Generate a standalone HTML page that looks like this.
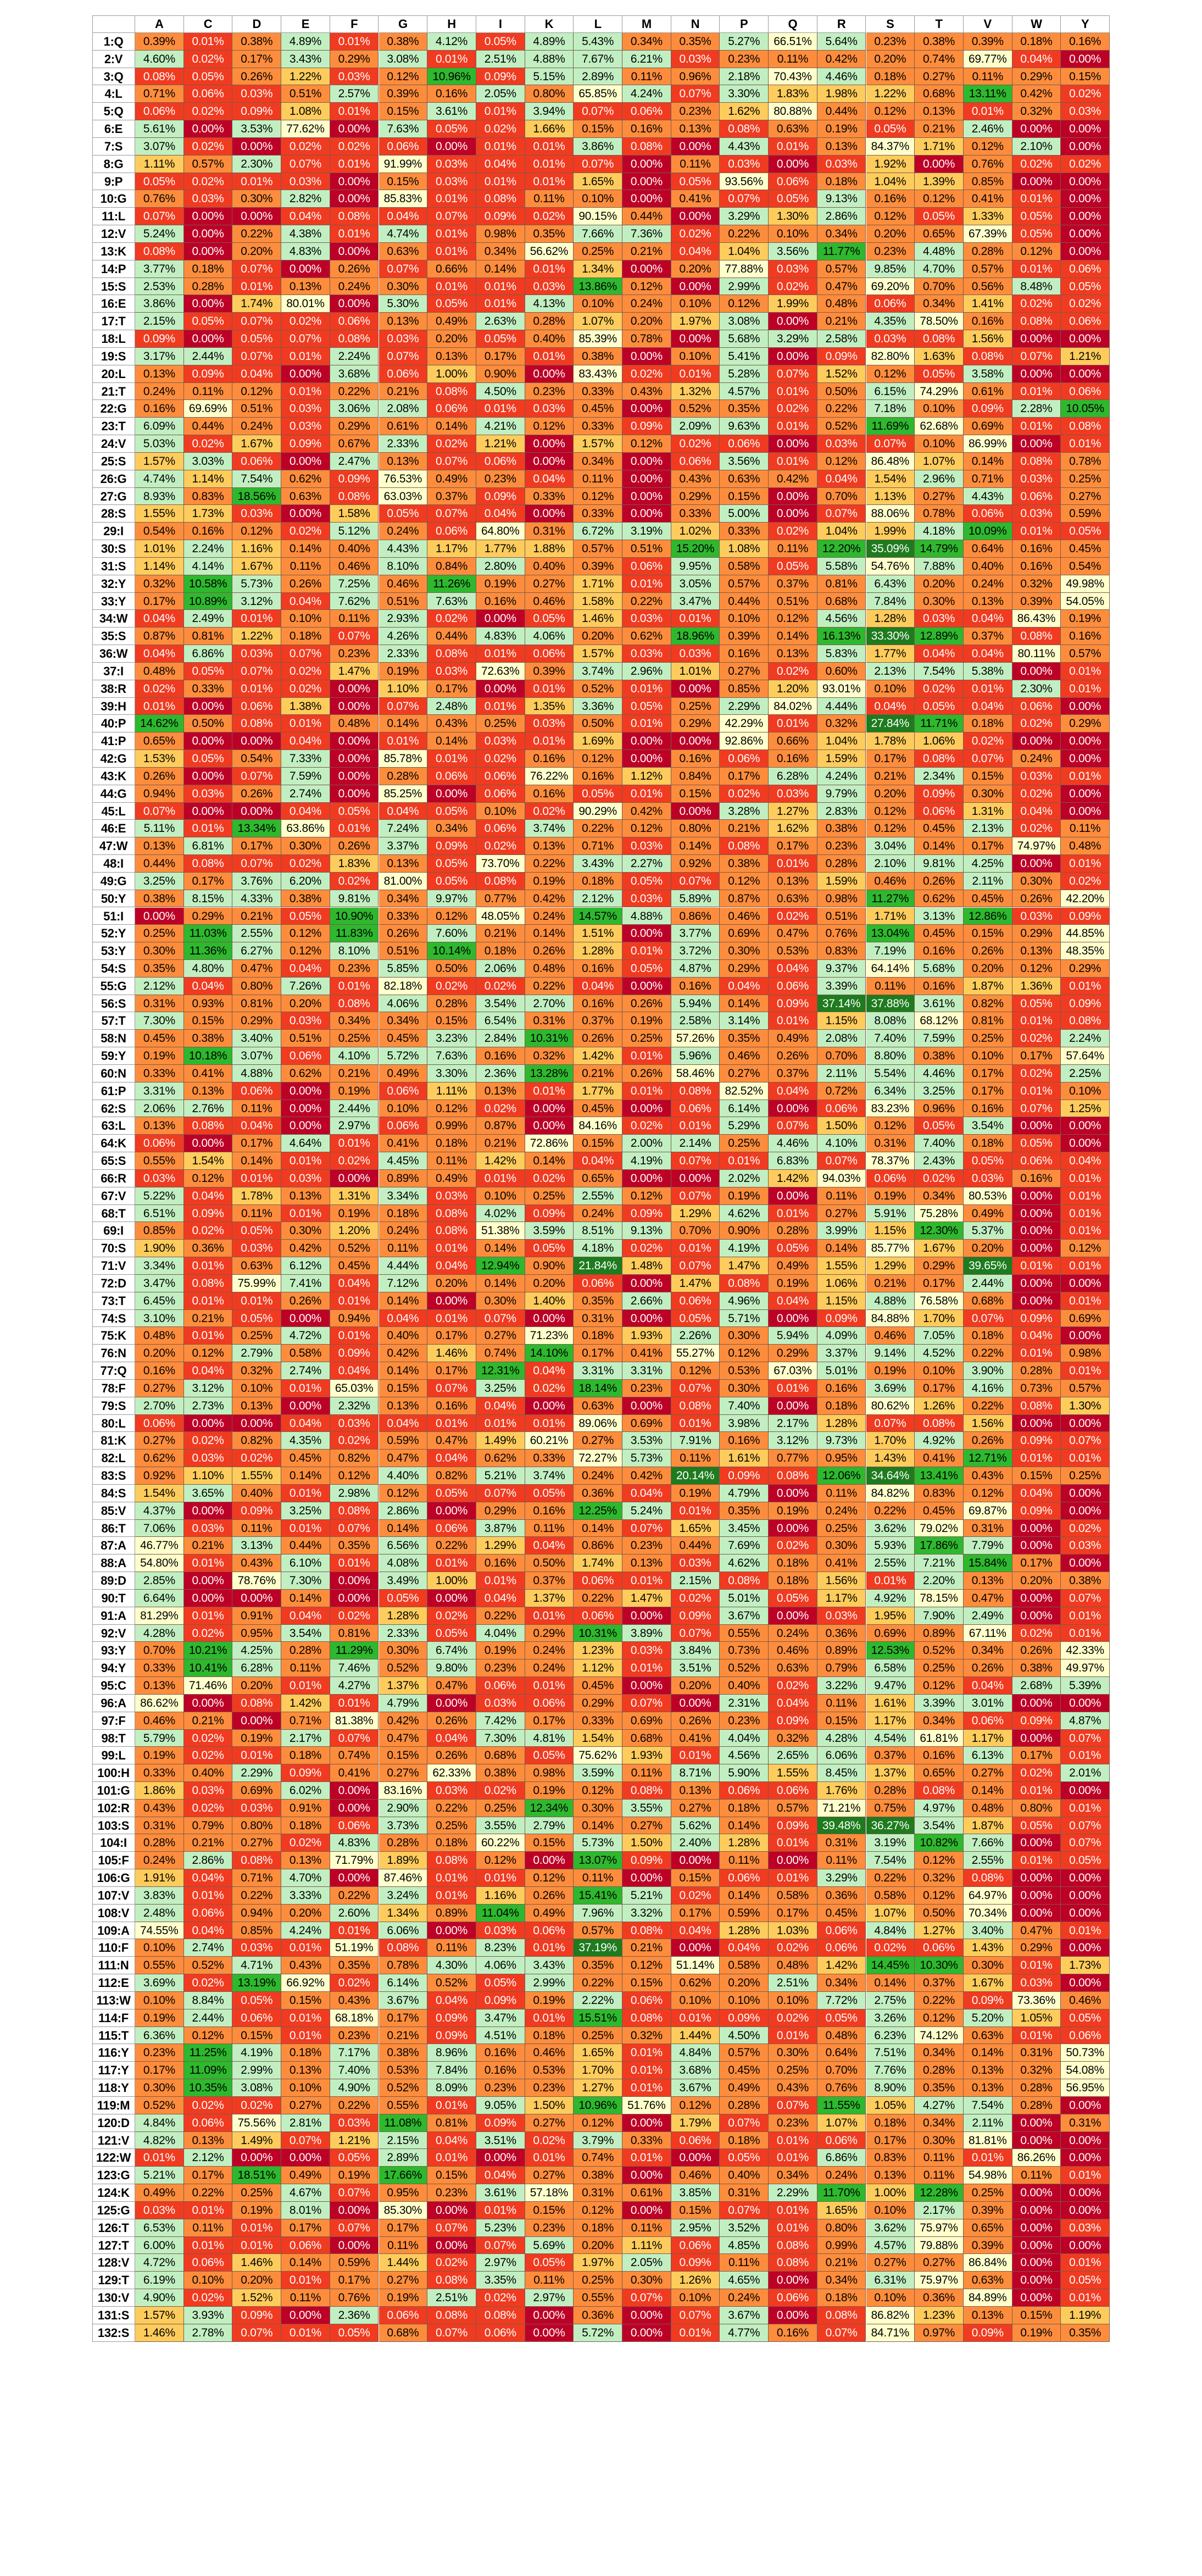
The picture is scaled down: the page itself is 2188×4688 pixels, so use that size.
<!DOCTYPE html>
<html><head><meta charset="utf-8">
<style>
html,body{margin:0;padding:0;background:#fff;}
body{width:2188px;height:4688px;position:relative;overflow:hidden;font-family:"Liberation Sans",sans-serif;}
.c{position:absolute;box-sizing:border-box;border-right:1.5px solid #7a5a50;border-bottom:1.5px solid #7a5a50;text-align:center;font-size:21px;white-space:nowrap;overflow:hidden;letter-spacing:-0.3px;}
.h{background:#fff;color:#000;font-weight:bold;font-size:22px;border-color:#999;}
</style></head><body>
<div id="t"></div>
<script>
var cols="A C D E F G H I K L M N P Q R S T V W Y".split(" ");
var R=[
["1:Q","0.39 0.01 0.38 4.89 0.01 0.38 4.12 0.05 4.89 5.43 0.34 0.35 5.27 66.51 5.64 0.23 0.38 0.39 0.18 0.16"],
["2:V","4.60 0.02 0.17 3.43 0.29 3.08 0.01 2.51 4.88 7.67 6.21 0.03 0.23 0.11 0.42 0.20 0.74 69.77 0.04 0.00"],
["3:Q","0.08 0.05 0.26 1.22 0.03 0.12 10.96 0.09 5.15 2.89 0.11 0.96 2.18 70.43 4.46 0.18 0.27 0.11 0.29 0.15"],
["4:L","0.71 0.06 0.03 0.51 2.57 0.39 0.16 2.05 0.80 65.85 4.24 0.07 3.30 1.83 1.98 1.22 0.68 13.11 0.42 0.02"],
["5:Q","0.06 0.02 0.09 1.08 0.01 0.15 3.61 0.01 3.94 0.07 0.06 0.23 1.62 80.88 0.44 0.12 0.13 0.01 0.32 0.03"],
["6:E","5.61 0.00 3.53 77.62 0.00 7.63 0.05 0.02 1.66 0.15 0.16 0.13 0.08 0.63 0.19 0.05 0.21 2.46 0.00 0.00"],
["7:S","3.07 0.02 0.00 0.02 0.02 0.06 0.00 0.01 0.01 3.86 0.08 0.00 4.43 0.01 0.13 84.37 1.71 0.12 2.10 0.00"],
["8:G","1.11 0.57 2.30 0.07 0.01 91.99 0.03 0.04 0.01 0.07 0.00 0.11 0.03 0.00 0.03 1.92 0.00 0.76 0.02 0.02"],
["9:P","0.05 0.02 0.01 0.03 0.00 0.15 0.03 0.01 0.01 1.65 0.00 0.05 93.56 0.06 0.18 1.04 1.39 0.85 0.00 0.00"],
["10:G","0.76 0.03 0.30 2.82 0.00 85.83 0.01 0.08 0.11 0.10 0.00 0.41 0.07 0.05 9.13 0.16 0.12 0.41 0.01 0.00"],
["11:L","0.07 0.00 0.00 0.04 0.08 0.04 0.07 0.09 0.02 90.15 0.44 0.00 3.29 1.30 2.86 0.12 0.05 1.33 0.05 0.00"],
["12:V","5.24 0.00 0.22 4.38 0.01 4.74 0.01 0.98 0.35 7.66 7.36 0.02 0.22 0.10 0.34 0.20 0.65 67.39 0.05 0.00"],
["13:K","0.08 0.00 0.20 4.83 0.00 0.63 0.01 0.34 56.62 0.25 0.21 0.04 1.04 3.56 11.77 0.23 4.48 0.28 0.12 0.00"],
["14:P","3.77 0.18 0.07 0.00 0.26 0.07 0.66 0.14 0.01 1.34 0.00 0.20 77.88 0.03 0.57 9.85 4.70 0.57 0.01 0.06"],
["15:S","2.53 0.28 0.01 0.13 0.24 0.30 0.01 0.01 0.03 13.86 0.12 0.00 2.99 0.02 0.47 69.20 0.70 0.56 8.48 0.05"],
["16:E","3.86 0.00 1.74 80.01 0.00 5.30 0.05 0.01 4.13 0.10 0.24 0.10 0.12 1.99 0.48 0.06 0.34 1.41 0.02 0.02"],
["17:T","2.15 0.05 0.07 0.02 0.06 0.13 0.49 2.63 0.28 1.07 0.20 1.97 3.08 0.00 0.21 4.35 78.50 0.16 0.08 0.06"],
["18:L","0.09 0.00 0.05 0.07 0.08 0.03 0.20 0.05 0.40 85.39 0.78 0.00 5.68 3.29 2.58 0.03 0.08 1.56 0.00 0.00"],
["19:S","3.17 2.44 0.07 0.01 2.24 0.07 0.13 0.17 0.01 0.38 0.00 0.10 5.41 0.00 0.09 82.80 1.63 0.08 0.07 1.21"],
["20:L","0.13 0.09 0.04 0.00 3.68 0.06 1.00 0.90 0.00 83.43 0.02 0.01 5.28 0.07 1.52 0.12 0.05 3.58 0.00 0.00"],
["21:T","0.24 0.11 0.12 0.01 0.22 0.21 0.08 4.50 0.23 0.33 0.43 1.32 4.57 0.01 0.50 6.15 74.29 0.61 0.01 0.06"],
["22:G","0.16 69.69 0.51 0.03 3.06 2.08 0.06 0.01 0.03 0.45 0.00 0.52 0.35 0.02 0.22 7.18 0.10 0.09 2.28 10.05"],
["23:T","6.09 0.44 0.24 0.03 0.29 0.61 0.14 4.21 0.12 0.33 0.09 2.09 9.63 0.01 0.52 11.69 62.68 0.69 0.01 0.08"],
["24:V","5.03 0.02 1.67 0.09 0.67 2.33 0.02 1.21 0.00 1.57 0.12 0.02 0.06 0.00 0.03 0.07 0.10 86.99 0.00 0.01"],
["25:S","1.57 3.03 0.06 0.00 2.47 0.13 0.07 0.06 0.00 0.34 0.00 0.06 3.56 0.01 0.12 86.48 1.07 0.14 0.08 0.78"],
["26:G","4.74 1.14 7.54 0.62 0.09 76.53 0.49 0.23 0.04 0.11 0.00 0.43 0.63 0.42 0.04 1.54 2.96 0.71 0.03 0.25"],
["27:G","8.93 0.83 18.56 0.63 0.08 63.03 0.37 0.09 0.33 0.12 0.00 0.29 0.15 0.00 0.70 1.13 0.27 4.43 0.06 0.27"],
["28:S","1.55 1.73 0.03 0.00 1.58 0.05 0.07 0.04 0.00 0.33 0.00 0.33 5.00 0.00 0.07 88.06 0.78 0.06 0.03 0.59"],
["29:I","0.54 0.16 0.12 0.02 5.12 0.24 0.06 64.80 0.31 6.72 3.19 1.02 0.33 0.02 1.04 1.99 4.18 10.09 0.01 0.05"],
["30:S","1.01 2.24 1.16 0.14 0.40 4.43 1.17 1.77 1.88 0.57 0.51 15.20 1.08 0.11 12.20 35.09 14.79 0.64 0.16 0.45"],
["31:S","1.14 4.14 1.67 0.11 0.46 8.10 0.84 2.80 0.40 0.39 0.06 9.95 0.58 0.05 5.58 54.76 7.88 0.40 0.16 0.54"],
["32:Y","0.32 10.58 5.73 0.26 7.25 0.46 11.26 0.19 0.27 1.71 0.01 3.05 0.57 0.37 0.81 6.43 0.20 0.24 0.32 49.98"],
["33:Y","0.17 10.89 3.12 0.04 7.62 0.51 7.63 0.16 0.46 1.58 0.22 3.47 0.44 0.51 0.68 7.84 0.30 0.13 0.39 54.05"],
["34:W","0.04 2.49 0.01 0.10 0.11 2.93 0.02 0.00 0.05 1.46 0.03 0.01 0.10 0.12 4.56 1.28 0.03 0.04 86.43 0.19"],
["35:S","0.87 0.81 1.22 0.18 0.07 4.26 0.44 4.83 4.06 0.20 0.62 18.96 0.39 0.14 16.13 33.30 12.89 0.37 0.08 0.16"],
["36:W","0.04 6.86 0.03 0.07 0.23 2.33 0.08 0.01 0.06 1.57 0.03 0.03 0.16 0.13 5.83 1.77 0.04 0.04 80.11 0.57"],
["37:I","0.48 0.05 0.07 0.02 1.47 0.19 0.03 72.63 0.39 3.74 2.96 1.01 0.27 0.02 0.60 2.13 7.54 5.38 0.00 0.01"],
["38:R","0.02 0.33 0.01 0.02 0.00 1.10 0.17 0.00 0.01 0.52 0.01 0.00 0.85 1.20 93.01 0.10 0.02 0.01 2.30 0.01"],
["39:H","0.01 0.00 0.06 1.38 0.00 0.07 2.48 0.01 1.35 3.36 0.05 0.25 2.29 84.02 4.44 0.04 0.05 0.04 0.06 0.00"],
["40:P","14.62 0.50 0.08 0.01 0.48 0.14 0.43 0.25 0.03 0.50 0.01 0.29 42.29 0.01 0.32 27.84 11.71 0.18 0.02 0.29"],
["41:P","0.65 0.00 0.00 0.04 0.00 0.01 0.14 0.03 0.01 1.69 0.00 0.00 92.86 0.66 1.04 1.78 1.06 0.02 0.00 0.00"],
["42:G","1.53 0.05 0.54 7.33 0.00 85.78 0.01 0.02 0.16 0.12 0.00 0.16 0.06 0.16 1.59 0.17 0.08 0.07 0.24 0.00"],
["43:K","0.26 0.00 0.07 7.59 0.00 0.28 0.06 0.06 76.22 0.16 1.12 0.84 0.17 6.28 4.24 0.21 2.34 0.15 0.03 0.01"],
["44:G","0.94 0.03 0.26 2.74 0.00 85.25 0.00 0.06 0.16 0.05 0.01 0.15 0.02 0.03 9.79 0.20 0.09 0.30 0.02 0.00"],
["45:L","0.07 0.00 0.00 0.04 0.05 0.04 0.05 0.10 0.02 90.29 0.42 0.00 3.28 1.27 2.83 0.12 0.06 1.31 0.04 0.00"],
["46:E","5.11 0.01 13.34 63.86 0.01 7.24 0.34 0.06 3.74 0.22 0.12 0.80 0.21 1.62 0.38 0.12 0.45 2.13 0.02 0.11"],
["47:W","0.13 6.81 0.17 0.30 0.26 3.37 0.09 0.02 0.13 0.71 0.03 0.14 0.08 0.17 0.23 3.04 0.14 0.17 74.97 0.48"],
["48:I","0.44 0.08 0.07 0.02 1.83 0.13 0.05 73.70 0.22 3.43 2.27 0.92 0.38 0.01 0.28 2.10 9.81 4.25 0.00 0.01"],
["49:G","3.25 0.17 3.76 6.20 0.02 81.00 0.05 0.08 0.19 0.18 0.05 0.07 0.12 0.13 1.59 0.46 0.26 2.11 0.30 0.02"],
["50:Y","0.38 8.15 4.33 0.38 9.81 0.34 9.97 0.77 0.42 2.12 0.03 5.89 0.87 0.63 0.98 11.27 0.62 0.45 0.26 42.20"],
["51:I","0.00 0.29 0.21 0.05 10.90 0.33 0.12 48.05 0.24 14.57 4.88 0.86 0.46 0.02 0.51 1.71 3.13 12.86 0.03 0.09"],
["52:Y","0.25 11.03 2.55 0.12 11.83 0.26 7.60 0.21 0.14 1.51 0.00 3.77 0.69 0.47 0.76 13.04 0.45 0.15 0.29 44.85"],
["53:Y","0.30 11.36 6.27 0.12 8.10 0.51 10.14 0.18 0.26 1.28 0.01 3.72 0.30 0.53 0.83 7.19 0.16 0.26 0.13 48.35"],
["54:S","0.35 4.80 0.47 0.04 0.23 5.85 0.50 2.06 0.48 0.16 0.05 4.87 0.29 0.04 9.37 64.14 5.68 0.20 0.12 0.29"],
["55:G","2.12 0.04 0.80 7.26 0.01 82.18 0.02 0.02 0.22 0.04 0.00 0.16 0.04 0.06 3.39 0.11 0.16 1.87 1.36 0.01"],
["56:S","0.31 0.93 0.81 0.20 0.08 4.06 0.28 3.54 2.70 0.16 0.26 5.94 0.14 0.09 37.14 37.88 3.61 0.82 0.05 0.09"],
["57:T","7.30 0.15 0.29 0.03 0.34 0.34 0.15 6.54 0.31 0.37 0.19 2.58 3.14 0.01 1.15 8.08 68.12 0.81 0.01 0.08"],
["58:N","0.45 0.38 3.40 0.51 0.25 0.45 3.23 2.84 10.31 0.26 0.25 57.26 0.35 0.49 2.08 7.40 7.59 0.25 0.02 2.24"],
["59:Y","0.19 10.18 3.07 0.06 4.10 5.72 7.63 0.16 0.32 1.42 0.01 5.96 0.46 0.26 0.70 8.80 0.38 0.10 0.17 57.64"],
["60:N","0.33 0.41 4.88 0.62 0.21 0.49 3.30 2.36 13.28 0.21 0.26 58.46 0.27 0.37 2.11 5.54 4.46 0.17 0.02 2.25"],
["61:P","3.31 0.13 0.06 0.00 0.19 0.06 1.11 0.13 0.01 1.77 0.01 0.08 82.52 0.04 0.72 6.34 3.25 0.17 0.01 0.10"],
["62:S","2.06 2.76 0.11 0.00 2.44 0.10 0.12 0.02 0.00 0.45 0.00 0.06 6.14 0.00 0.06 83.23 0.96 0.16 0.07 1.25"],
["63:L","0.13 0.08 0.04 0.00 2.97 0.06 0.99 0.87 0.00 84.16 0.02 0.01 5.29 0.07 1.50 0.12 0.05 3.54 0.00 0.00"],
["64:K","0.06 0.00 0.17 4.64 0.01 0.41 0.18 0.21 72.86 0.15 2.00 2.14 0.25 4.46 4.10 0.31 7.40 0.18 0.05 0.00"],
["65:S","0.55 1.54 0.14 0.01 0.02 4.45 0.11 1.42 0.14 0.04 4.19 0.07 0.01 6.83 0.07 78.37 2.43 0.05 0.06 0.04"],
["66:R","0.03 0.12 0.01 0.03 0.00 0.89 0.49 0.01 0.02 0.65 0.00 0.00 2.02 1.42 94.03 0.06 0.02 0.03 0.16 0.01"],
["67:V","5.22 0.04 1.78 0.13 1.31 3.34 0.03 0.10 0.25 2.55 0.12 0.07 0.19 0.00 0.11 0.19 0.34 80.53 0.00 0.01"],
["68:T","6.51 0.09 0.11 0.01 0.19 0.18 0.08 4.02 0.09 0.24 0.09 1.29 4.62 0.01 0.27 5.91 75.28 0.49 0.00 0.01"],
["69:I","0.85 0.02 0.05 0.30 1.20 0.24 0.08 51.38 3.59 8.51 9.13 0.70 0.90 0.28 3.99 1.15 12.30 5.37 0.00 0.01"],
["70:S","1.90 0.36 0.03 0.42 0.52 0.11 0.01 0.14 0.05 4.18 0.02 0.01 4.19 0.05 0.14 85.77 1.67 0.20 0.00 0.12"],
["71:V","3.34 0.01 0.63 6.12 0.45 4.44 0.04 12.94 0.90 21.84 1.48 0.07 1.47 0.49 1.55 1.29 0.29 39.65 0.01 0.01"],
["72:D","3.47 0.08 75.99 7.41 0.04 7.12 0.20 0.14 0.20 0.06 0.00 1.47 0.08 0.19 1.06 0.21 0.17 2.44 0.00 0.00"],
["73:T","6.45 0.01 0.01 0.26 0.01 0.14 0.00 0.30 1.40 0.35 2.66 0.06 4.96 0.04 1.15 4.88 76.58 0.68 0.00 0.01"],
["74:S","3.10 0.21 0.05 0.00 0.94 0.04 0.01 0.07 0.00 0.31 0.00 0.05 5.71 0.00 0.09 84.88 1.70 0.07 0.09 0.69"],
["75:K","0.48 0.01 0.25 4.72 0.01 0.40 0.17 0.27 71.23 0.18 1.93 2.26 0.30 5.94 4.09 0.46 7.05 0.18 0.04 0.00"],
["76:N","0.20 0.12 2.79 0.58 0.09 0.42 1.46 0.74 14.10 0.17 0.41 55.27 0.12 0.29 3.37 9.14 4.52 0.22 0.01 0.98"],
["77:Q","0.16 0.04 0.32 2.74 0.04 0.14 0.17 12.31 0.04 3.31 3.31 0.12 0.53 67.03 5.01 0.19 0.10 3.90 0.28 0.01"],
["78:F","0.27 3.12 0.10 0.01 65.03 0.15 0.07 3.25 0.02 18.14 0.23 0.07 0.30 0.01 0.16 3.69 0.17 4.16 0.73 0.57"],
["79:S","2.70 2.73 0.13 0.00 2.32 0.13 0.16 0.04 0.00 0.63 0.00 0.08 7.40 0.00 0.18 80.62 1.26 0.22 0.08 1.30"],
["80:L","0.06 0.00 0.00 0.04 0.03 0.04 0.01 0.01 0.01 89.06 0.69 0.01 3.98 2.17 1.28 0.07 0.08 1.56 0.00 0.00"],
["81:K","0.27 0.02 0.82 4.35 0.02 0.59 0.47 1.49 60.21 0.27 3.53 7.91 0.16 3.12 9.73 1.70 4.92 0.26 0.09 0.07"],
["82:L","0.62 0.03 0.02 0.45 0.82 0.47 0.04 0.62 0.33 72.27 5.73 0.11 1.61 0.77 0.95 1.43 0.41 12.71 0.01 0.01"],
["83:S","0.92 1.10 1.55 0.14 0.12 4.40 0.82 5.21 3.74 0.24 0.42 20.14 0.09 0.08 12.06 34.64 13.41 0.43 0.15 0.25"],
["84:S","1.54 3.65 0.40 0.01 2.98 0.12 0.05 0.07 0.05 0.36 0.04 0.19 4.79 0.00 0.11 84.82 0.83 0.12 0.04 0.00"],
["85:V","4.37 0.00 0.09 3.25 0.08 2.86 0.00 0.29 0.16 12.25 5.24 0.01 0.35 0.19 0.24 0.22 0.45 69.87 0.09 0.00"],
["86:T","7.06 0.03 0.11 0.01 0.07 0.14 0.06 3.87 0.11 0.14 0.07 1.65 3.45 0.00 0.25 3.62 79.02 0.31 0.00 0.02"],
["87:A","46.77 0.21 3.13 0.44 0.35 6.56 0.22 1.29 0.04 0.86 0.23 0.44 7.69 0.02 0.30 5.93 17.86 7.79 0.00 0.03"],
["88:A","54.80 0.01 0.43 6.10 0.01 4.08 0.01 0.16 0.50 1.74 0.13 0.03 4.62 0.18 0.41 2.55 7.21 15.84 0.17 0.00"],
["89:D","2.85 0.00 78.76 7.30 0.00 3.49 1.00 0.01 0.37 0.06 0.01 2.15 0.08 0.18 1.56 0.01 2.20 0.13 0.20 0.38"],
["90:T","6.64 0.00 0.00 0.14 0.00 0.05 0.00 0.04 1.37 0.22 1.47 0.02 5.01 0.05 1.17 4.92 78.15 0.47 0.00 0.07"],
["91:A","81.29 0.01 0.91 0.04 0.02 1.28 0.02 0.22 0.01 0.06 0.00 0.09 3.67 0.00 0.03 1.95 7.90 2.49 0.00 0.01"],
["92:V","4.28 0.02 0.95 3.54 0.81 2.33 0.05 4.04 0.29 10.31 3.89 0.07 0.55 0.24 0.36 0.69 0.89 67.11 0.02 0.01"],
["93:Y","0.70 10.21 4.25 0.28 11.29 0.30 6.74 0.19 0.24 1.23 0.03 3.84 0.73 0.46 0.89 12.53 0.52 0.34 0.26 42.33"],
["94:Y","0.33 10.41 6.28 0.11 7.46 0.52 9.80 0.23 0.24 1.12 0.01 3.51 0.52 0.63 0.79 6.58 0.25 0.26 0.38 49.97"],
["95:C","0.13 71.46 0.20 0.01 4.27 1.37 0.47 0.06 0.01 0.45 0.00 0.20 0.40 0.02 3.22 9.47 0.12 0.04 2.68 5.39"],
["96:A","86.62 0.00 0.08 1.42 0.01 4.79 0.00 0.03 0.06 0.29 0.07 0.00 2.31 0.04 0.11 1.61 3.39 3.01 0.00 0.00"],
["97:F","0.46 0.21 0.00 0.71 81.38 0.42 0.26 7.42 0.17 0.33 0.69 0.26 0.23 0.09 0.15 1.17 0.34 0.06 0.09 4.87"],
["98:T","5.79 0.02 0.19 2.17 0.07 0.47 0.04 7.30 4.81 1.54 0.68 0.41 4.04 0.32 4.28 4.54 61.81 1.17 0.00 0.07"],
["99:L","0.19 0.02 0.01 0.18 0.74 0.15 0.26 0.68 0.05 75.62 1.93 0.01 4.56 2.65 6.06 0.37 0.16 6.13 0.17 0.01"],
["100:H","0.33 0.40 2.29 0.09 0.41 0.27 62.33 0.38 0.98 3.59 0.11 8.71 5.90 1.55 8.45 1.37 0.65 0.27 0.02 2.01"],
["101:G","1.86 0.03 0.69 6.02 0.00 83.16 0.03 0.02 0.19 0.12 0.08 0.13 0.06 0.06 1.76 0.28 0.08 0.14 0.01 0.00"],
["102:R","0.43 0.02 0.03 0.91 0.00 2.90 0.22 0.25 12.34 0.30 3.55 0.27 0.18 0.57 71.21 0.75 4.97 0.48 0.80 0.01"],
["103:S","0.31 0.79 0.80 0.18 0.06 3.73 0.25 3.55 2.79 0.14 0.27 5.62 0.14 0.09 39.48 36.27 3.54 1.87 0.05 0.07"],
["104:I","0.28 0.21 0.27 0.02 4.83 0.28 0.18 60.22 0.15 5.73 1.50 2.40 1.28 0.01 0.31 3.19 10.82 7.66 0.00 0.07"],
["105:F","0.24 2.86 0.08 0.13 71.79 1.89 0.08 0.12 0.00 13.07 0.09 0.00 0.11 0.00 0.11 7.54 0.12 2.55 0.01 0.05"],
["106:G","1.91 0.04 0.71 4.70 0.00 87.46 0.01 0.01 0.12 0.11 0.00 0.15 0.06 0.01 3.29 0.22 0.32 0.08 0.00 0.00"],
["107:V","3.83 0.01 0.22 3.33 0.22 3.24 0.01 1.16 0.26 15.41 5.21 0.02 0.14 0.58 0.36 0.58 0.12 64.97 0.00 0.00"],
["108:V","2.48 0.06 0.94 0.20 2.60 1.34 0.89 11.04 0.49 7.96 3.32 0.17 0.59 0.17 0.45 1.07 0.50 70.34 0.00 0.00"],
["109:A","74.55 0.04 0.85 4.24 0.01 6.06 0.00 0.03 0.06 0.57 0.08 0.04 1.28 1.03 0.06 4.84 1.27 3.40 0.47 0.01"],
["110:F","0.10 2.74 0.03 0.01 51.19 0.08 0.11 8.23 0.01 37.19 0.21 0.00 0.04 0.02 0.06 0.02 0.06 1.43 0.29 0.00"],
["111:N","0.55 0.52 4.71 0.43 0.35 0.78 4.30 4.06 3.43 0.35 0.12 51.14 0.58 0.48 1.42 14.45 10.30 0.30 0.01 1.73"],
["112:E","3.69 0.02 13.19 66.92 0.02 6.14 0.52 0.05 2.99 0.22 0.15 0.62 0.20 2.51 0.34 0.14 0.37 1.67 0.03 0.00"],
["113:W","0.10 8.84 0.05 0.15 0.43 3.67 0.04 0.09 0.19 2.22 0.06 0.10 0.10 0.10 7.72 2.75 0.22 0.09 73.36 0.46"],
["114:F","0.19 2.44 0.06 0.01 68.18 0.17 0.09 3.47 0.01 15.51 0.08 0.01 0.09 0.02 0.05 3.26 0.12 5.20 1.05 0.05"],
["115:T","6.36 0.12 0.15 0.01 0.23 0.21 0.09 4.51 0.18 0.25 0.32 1.44 4.50 0.01 0.48 6.23 74.12 0.63 0.01 0.06"],
["116:Y","0.23 11.25 4.19 0.18 7.17 0.38 8.96 0.16 0.46 1.65 0.01 4.84 0.57 0.30 0.64 7.51 0.34 0.14 0.31 50.73"],
["117:Y","0.17 11.09 2.99 0.13 7.40 0.53 7.84 0.16 0.53 1.70 0.01 3.68 0.45 0.25 0.70 7.76 0.28 0.13 0.32 54.08"],
["118:Y","0.30 10.35 3.08 0.10 4.90 0.52 8.09 0.23 0.23 1.27 0.01 3.67 0.49 0.43 0.76 8.90 0.35 0.13 0.28 56.95"],
["119:M","0.52 0.02 0.02 0.27 0.22 0.55 0.01 9.05 1.50 10.96 51.76 0.12 0.28 0.07 11.55 1.05 4.27 7.54 0.28 0.00"],
["120:D","4.84 0.06 75.56 2.81 0.03 11.08 0.81 0.09 0.27 0.12 0.00 1.79 0.07 0.23 1.07 0.18 0.34 2.11 0.00 0.31"],
["121:V","4.82 0.13 1.49 0.07 1.21 2.15 0.04 3.51 0.02 3.79 0.33 0.06 0.18 0.01 0.06 0.17 0.30 81.81 0.00 0.00"],
["122:W","0.01 2.12 0.00 0.00 0.05 2.89 0.01 0.00 0.01 0.74 0.01 0.00 0.05 0.01 6.86 0.83 0.11 0.01 86.26 0.00"],
["123:G","5.21 0.17 18.51 0.49 0.19 17.66 0.15 0.04 0.27 0.38 0.00 0.46 0.40 0.34 0.24 0.13 0.11 54.98 0.11 0.01"],
["124:K","0.49 0.22 0.25 4.67 0.07 0.95 0.23 3.61 57.18 0.31 0.61 3.85 0.31 2.29 11.70 1.00 12.28 0.25 0.00 0.00"],
["125:G","0.03 0.01 0.19 8.01 0.00 85.30 0.00 0.01 0.15 0.12 0.00 0.15 0.07 0.01 1.65 0.10 2.17 0.39 0.00 0.00"],
["126:T","6.53 0.11 0.01 0.17 0.07 0.17 0.07 5.23 0.23 0.18 0.11 2.95 3.52 0.01 0.80 3.62 75.97 0.65 0.00 0.03"],
["127:T","6.00 0.01 0.01 0.06 0.00 0.11 0.00 0.07 5.69 0.20 1.11 0.06 4.85 0.08 0.99 4.57 79.88 0.39 0.00 0.00"],
["128:V","4.72 0.06 1.46 0.14 0.59 1.44 0.02 2.97 0.05 1.97 2.05 0.09 0.11 0.08 0.21 0.27 0.27 86.84 0.00 0.01"],
["129:T","6.19 0.10 0.20 0.01 0.17 0.27 0.08 3.35 0.11 0.25 0.30 1.26 4.65 0.00 0.34 6.31 75.97 0.63 0.00 0.05"],
["130:V","4.90 0.02 1.52 0.11 0.76 0.19 2.51 0.02 2.97 0.55 0.07 0.10 0.24 0.06 0.18 0.10 0.36 84.89 0.00 0.01"],
["131:S","1.57 3.93 0.09 0.00 2.36 0.06 0.08 0.08 0.00 0.36 0.00 0.07 3.67 0.00 0.08 86.82 1.23 0.13 0.15 1.19"],
["132:S","1.46 2.78 0.07 0.01 0.05 0.68 0.07 0.06 0.00 5.72 0.00 0.01 4.77 0.16 0.07 84.71 0.97 0.09 0.19 0.35"]
];
function col(v){
 if(v<0.005) return ["#bd0026","#fff"];
 if(v<0.1) return ["#f03b20","#fff"];
 if(v<1) return ["#fd8d3c","#000"];
 if(v<2) return ["#fecc5c","#000"];
 if(v<10) return ["#c2efc2","#000"];
 if(v<20) return ["#2eb82e","#000"];
 if(v<40) return ["#1e7b1e","#fff"];
 return ["#ffffcc","#000"];
}
var X0=168,Y0=28,LW=78,CW=88.7,HH=32,RH=31.83;
var h=[];
function cell(x,y,w,hh,bg,fg,txt,cls){
 h.push('<div class="c'+(cls||'')+'" style="left:'+x.toFixed(2)+'px;top:'+y.toFixed(2)+'px;width:'+w.toFixed(2)+'px;height:'+hh.toFixed(2)+'px;line-height:'+hh.toFixed(2)+'px;background:'+bg+';color:'+fg+'">'+txt+'</div>');
}
// header
cell(X0,Y0,LW,HH,"#fff","#000","", " h");
for(var j=0;j<20;j++) cell(X0+LW+j*CW,Y0,CW,HH,"#fff","#000",cols[j]," h");
for(var i=0;i<R.length;i++){
 var y=Y0+HH+i*RH;
 cell(X0,y,LW,RH,"#fff","#000",R[i][0]," h");
 var vs=R[i][1].split(" ");
 for(var j=0;j<20;j++){
  var v=parseFloat(vs[j]||"0"); var c=col(v);
  cell(X0+LW+j*CW,y,CW,RH,c[0],c[1],(vs[j]||"0.00")+"%");
 }
}
document.getElementById("t").innerHTML=h.join("")+'<div style="position:absolute;left:'+X0+'px;top:'+Y0+'px;width:'+(LW+20*CW)+'px;height:'+(HH+R.length*RH)+'px;border-left:1.5px solid #999;border-top:1.5px solid #999;box-sizing:border-box;pointer-events:none"></div>';
</script>
</body></html>
